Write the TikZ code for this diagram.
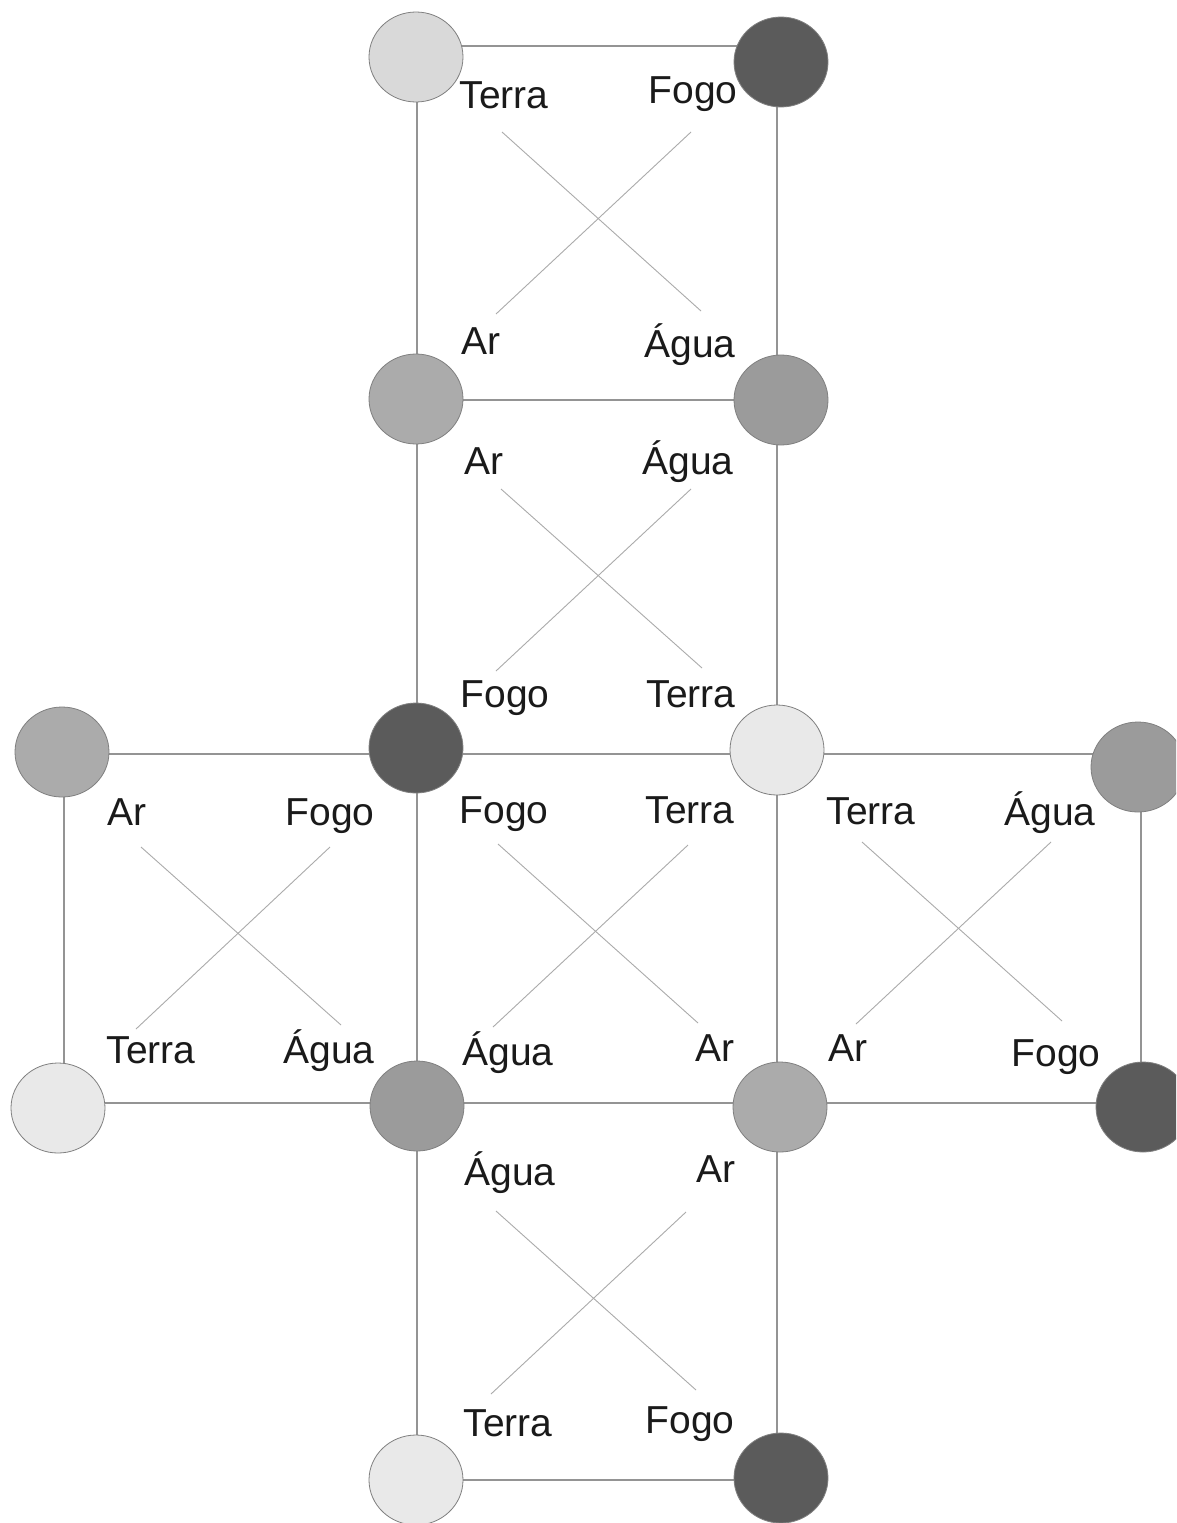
\documentclass[tikz,border=0pt]{standalone}
\usepackage{fontspec}
\setmainfont{Liberation Sans}
\usetikzlibrary{shapes.geometric}
\definecolor{cdark}{HTML}{5B5B5B}
\definecolor{clight}{HTML}{D9D9D9}
\definecolor{cvlight}{HTML}{E9E9E9}
\definecolor{cmid}{HTML}{ABABAB}
\definecolor{cgray}{HTML}{9B9B9B}
\definecolor{ctext}{HTML}{1A1A1A}
\begin{document}
\begin{tikzpicture}[x=1pt,y=-1pt,
  ball/.style={ellipse, draw=black!50, line width=0.8pt, minimum width=94pt, minimum height=90pt, inner sep=0pt},
  gridline/.style={draw=black!42, line width=1.3pt},
  crossline/.style={draw=black!33, line width=0.9pt},
  lbl/.style={font=\fontsize{39}{46}\selectfont, anchor=base, inner sep=0pt, text=ctext}]
\useasboundingbox (0,0) rectangle (1176,1523);
\clip (0,0) rectangle (1176,1523);
\fill[white] (0,0) rectangle (1176,1523);

% grid corners
\coordinate (gA1) at (417,46);   \coordinate (gB1) at (777,46);
\coordinate (gA2) at (417,400);  \coordinate (gB2) at (777,400);
\coordinate (gL3) at (64,754);   \coordinate (gR3) at (1141,754);
\coordinate (gL4) at (64,1103);  \coordinate (gR4) at (1141,1103);
\coordinate (gA5) at (417,1480); \coordinate (gB5) at (777,1480);

\draw[gridline] (gA1) -- (gB1);
\draw[gridline] (gA1) -- (gA5);
\draw[gridline] (gB1) -- (gB5);
\draw[gridline] (gA2) -- (gB2);
\draw[gridline] (gL3) -- (gR3);
\draw[gridline] (gL3) -- (gL4);
\draw[gridline] (gR3) -- (gR4);
\draw[gridline] (gL4) -- (gR4);
\draw[gridline] (gA5) -- (gB5);

% diagonal crosses
\coordinate (t1a) at (502,132);  \coordinate (t1b) at (701,311);
\coordinate (t2a) at (691,132);  \coordinate (t2b) at (496,314);
\coordinate (s1a) at (501,489);  \coordinate (s1b) at (702,668);
\coordinate (s2a) at (691,489);  \coordinate (s2b) at (496,671);
\coordinate (l1a) at (141,847);  \coordinate (l1b) at (341,1025);
\coordinate (l2a) at (330,847);  \coordinate (l2b) at (136,1029);
\coordinate (m1a) at (498,844);  \coordinate (m1b) at (698,1023);
\coordinate (m2a) at (688,845);  \coordinate (m2b) at (493,1027);
\coordinate (r1a) at (862,842);  \coordinate (r1b) at (1062,1021);
\coordinate (r2a) at (1051,842); \coordinate (r2b) at (856,1024);
\coordinate (b1a) at (496,1211); \coordinate (b1b) at (696,1390);
\coordinate (b2a) at (686,1212); \coordinate (b2b) at (491,1394);
\foreach \p in {t,s,l,m,r,b}{
  \draw[crossline] (\p1a) -- (\p1b);
  \draw[crossline] (\p2a) -- (\p2b);
}

% circles
\node[ball, fill=clight]  (c1)  at (416,57)   {};
\node[ball, fill=cdark]   (c2)  at (781,62)   {};
\node[ball, fill=cmid]    (c3)  at (416,399)  {};
\node[ball, fill=cgray]   (c4)  at (781,400)  {};
\node[ball, fill=cdark]   (c5)  at (416,748)  {};
\node[ball, fill=cvlight] (c6)  at (777,750)  {};
\node[ball, fill=cmid]    (c7)  at (62,752)   {};
\node[ball, fill=cgray]   (c8)  at (1138,767) {};
\node[ball, fill=cvlight] (c9)  at (58,1108)  {};
\node[ball, fill=cgray]   (c10) at (417,1106) {};
\node[ball, fill=cmid]    (c11) at (780,1107) {};
\node[ball, fill=cdark]   (c12) at (1143,1107) {};
\node[ball, fill=cvlight] (c13) at (416,1480) {};
\node[ball, fill=cdark]   (c14) at (781,1478) {};

% labels: top square
\node[lbl] (tT) at (504,108) {Terra};
\node[lbl] (tF) at (693,103) {Fogo};
\node[lbl] (tR) at (481,354) {Ar};
\node[lbl] (tA) at (690,357) {Água};
% second square
\node[lbl] (sR) at (484,474) {Ar};
\node[lbl] (sA) at (688,474) {Água};
\node[lbl] (sF) at (505,707) {Fogo};
\node[lbl] (sT) at (691,707) {Terra};
% left square
\node[lbl] (lR) at (127,825) {Ar};
\node[lbl] (lF) at (330,825) {Fogo};
\node[lbl] (lT) at (151,1063) {Terra};
\node[lbl] (lA) at (329,1063) {Água};
% center square
\node[lbl] (mF) at (504,823) {Fogo};
\node[lbl] (mT) at (690,823) {Terra};
\node[lbl] (mA) at (508,1065) {Água};
\node[lbl] (mR) at (715,1061) {Ar};
% right square
\node[lbl] (rT) at (871,824) {Terra};
\node[lbl] (rA) at (1050,825) {Água};
\node[lbl] (rR) at (848,1061) {Ar};
\node[lbl] (rF) at (1056,1066) {Fogo};
% bottom square
\node[lbl] (bA) at (510,1185) {Água};
\node[lbl] (bR) at (716,1182) {Ar};
\node[lbl] (bT) at (508,1436) {Terra};
\node[lbl] (bF) at (690,1433) {Fogo};
\end{tikzpicture}
\end{document}
